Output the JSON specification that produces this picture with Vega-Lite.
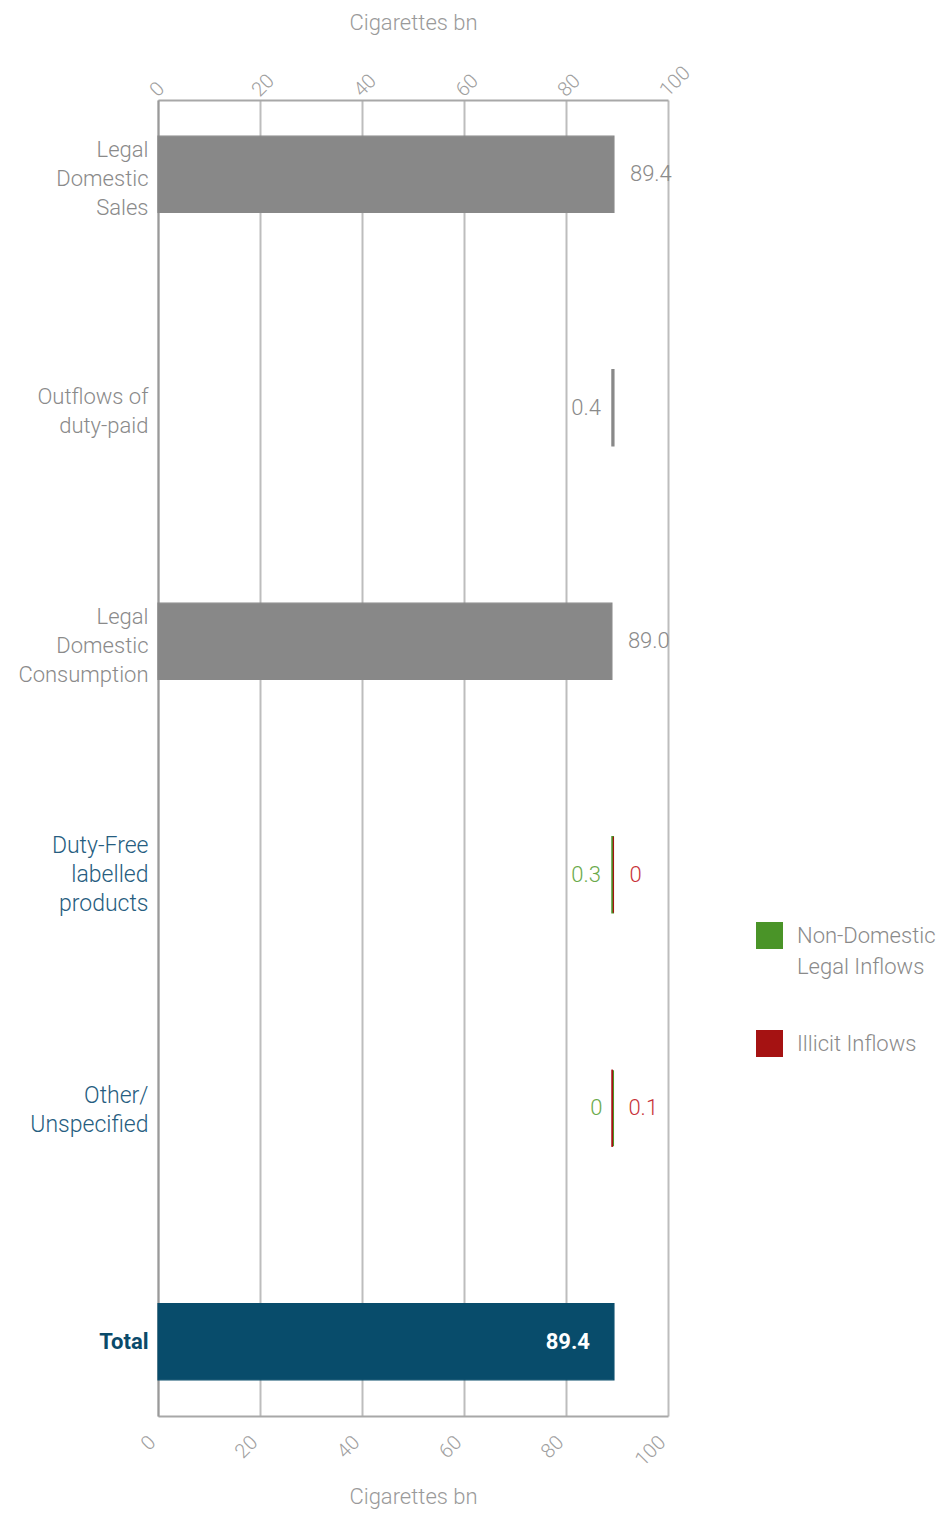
{
  "$schema": "https://vega.github.io/schema/vega-lite/v6.json",
  "width": 510,
  "height": 1316,
  "autosize": "none",
  "padding": {"left": 158, "top": 100, "right": 279, "bottom": 99},
  "background": "white",
  "config": {
    "font": "Roboto",
    "view": {"stroke": null},
    "text": {"font": "Roboto", "fontWeight": 300}
  },
  "data": {
    "values": [
      {"category": "Legal Domestic Sales", "flow": "Domestic", "start": 0, "end": 89.4, "label": "89.4"},
      {"category": "Outflows of duty-paid", "flow": "Outflow", "start": 89.0, "end": 89.4, "label": "0.4"},
      {"category": "Legal Domestic Consumption", "flow": "Domestic", "start": 0, "end": 89.0, "label": "89.0"},
      {"category": "Duty-Free labelled products", "flow": "Non-Domestic Legal Inflows", "start": 89.0, "end": 89.3, "label": "0.3"},
      {"category": "Duty-Free labelled products", "flow": "Illicit Inflows", "start": 89.3, "end": 89.3, "label": "0"},
      {"category": "Other/Unspecified", "flow": "Non-Domestic Legal Inflows", "start": 89.3, "end": 89.3, "label": "0"},
      {"category": "Other/Unspecified", "flow": "Illicit Inflows", "start": 89.0, "end": 89.1, "label": "0.1"},
      {"category": "Total", "flow": "Total", "start": 0, "end": 89.4, "label": "89.4"}
    ]
  },
  "encoding": {
    "y": {
      "field": "category",
      "type": "nominal",
      "sort": ["Legal Domestic Sales", "Outflows of duty-paid", "Legal Domestic Consumption", "Duty-Free labelled products", "Other/Unspecified", "Total"],
      "scale": {"paddingInner": 0.674, "paddingOuter": 0.155},
      "axis": {
        "title": null,
        "ticks": false,
        "domainColor": "#9a9a9a",
        "domainWidth": 2,
        "labelPadding": 10,
        "labelFont": "Roboto",
        "labelFontSize": {"condition": {"test": "datum.value == 'Duty-Free labelled products' || datum.value == 'Other/Unspecified'", "value": 23}, "value": 22},
        "labelLineHeight": 29,
        "labelFontWeight": {"condition": {"test": "datum.value == 'Total'", "value": "bold"}, "value": 300},
        "labelColor": {"condition": [
          {"test": "datum.value == 'Total'", "value": "#0a4a6a"},
          {"test": "datum.value == 'Duty-Free labelled products' || datum.value == 'Other/Unspecified'", "value": "#265d80"}
        ], "value": "#8a8a8a"},
        "labelOffset": {"condition": [
          {"test": "datum.value == 'Legal Domestic Sales' || datum.value == 'Legal Domestic Consumption'", "value": -24},
          {"test": "datum.value == 'Duty-Free labelled products'", "value": -29},
          {"test": "datum.value == 'Outflows of duty-paid'", "value": -11},
          {"test": "datum.value == 'Other/Unspecified'", "value": -12}
        ], "value": 0},
        "labelExpr": "datum.value == 'Legal Domestic Sales' ? ['Legal','Domestic','Sales'] : datum.value == 'Outflows of duty-paid' ? ['Outflows of','duty-paid'] : datum.value == 'Legal Domestic Consumption' ? ['Legal','Domestic','Consumption'] : datum.value == 'Duty-Free labelled products' ? ['Duty-Free','labelled','products'] : datum.value == 'Other/Unspecified' ? ['Other/','Unspecified'] : datum.value"
      }
    }
  },
  "layer": [
    {
      "mark": {"type": "bar", "strokeWidth": 1.2},
      "encoding": {
        "x": {
          "field": "start",
          "type": "quantitative",
          "scale": {"domain": [0, 100], "nice": false},
          "axis": {
            "orient": "bottom",
            "values": [0, 20, 40, 60, 80, 100],
            "title": "Cigarettes bn",
            "titleFont": "Roboto",
            "titleFontWeight": 300,
            "titleFontSize": 22,
            "titleColor": "#9a9a9a",
            "titlePadding": 17,
            "ticks": false,
            "grid": true,
            "gridColor": "#bdbdbd",
            "gridWidth": 2,
            "domainColor": "#a8a8a8",
            "domainWidth": 2,
            "labelAngle": -45,
            "labelAlign": "right",
            "labelBaseline": "middle",
            "labelFont": "Roboto",
            "labelFontWeight": 300,
            "labelFontSize": 20,
            "labelColor": "#a0a0a0",
            "labelPadding": 23,
            "labelOffset": -6,
            "labelFlush": false
          }
        },
        "x2": {"field": "end"},
        "color": {
          "field": "flow",
          "type": "nominal",
          "scale": {
            "domain": ["Non-Domestic Legal Inflows", "Illicit Inflows", "Domestic", "Outflow", "Total"],
            "range": ["#4a9428", "#a51212", "#888888", "#888888", "#084c6b"]
          },
          "legend": {
            "values": ["Non-Domestic Legal Inflows", "Illicit Inflows"],
            "title": null,
            "orient": "none",
            "legendX": 598,
            "legendY": 822,
            "symbolType": "square",
            "symbolSize": 729,
            "symbolStrokeWidth": 0,
            "symbolOpacity": 1,
            "labelFont": "Roboto",
            "labelFontWeight": 300,
            "labelFontSize": 22,
            "labelColor": "#8a8a8a",
            "labelOffset": 14,
            "labelBaseline": "middle",
            "labelLimit": 300,
            "rowPadding": 52,
            "labelExpr": "datum.label == 'Non-Domestic Legal Inflows' ? ['Non-Domestic','Legal Inflows'] : datum.label",
            "encode": {"labels": {"update": {"lineHeight": {"value": 31}}}}
          }
        },
        "stroke": {"field": "flow", "type": "nominal", "legend": null, "scale": {
            "domain": ["Non-Domestic Legal Inflows", "Illicit Inflows", "Domestic", "Outflow", "Total"],
            "range": ["#4a9428", "#a51212", "#888888", "#888888", "#084c6b"]
          }},
        "opacity": {"value": 1}
      }
    },
    {
      "mark": {"type": "rule", "strokeWidth": 0},
      "encoding": {
        "x": {"field": "start", "type": "quantitative", "axis": {
          "orient": "top",
          "values": [0, 20, 40, 60, 80, 100],
          "title": "Cigarettes bn",
          "titleFont": "Roboto",
          "titleFontWeight": 300,
          "titleFontSize": 22,
          "titleColor": "#9a9a9a",
          "titlePadding": 28,
          "ticks": false,
          "grid": false,
          "domainColor": "#a8a8a8",
          "domainWidth": 2,
          "labelAngle": -45,
          "labelAlign": "left",
          "labelBaseline": "middle",
          "labelFont": "Roboto",
          "labelFontWeight": 300,
          "labelFontSize": 20,
          "labelColor": "#a0a0a0",
          "labelPadding": 7,
          "labelOffset": -5,
          "labelFlush": false
        }}
      }
    },
    {
      "transform": [{"filter": "datum.flow == 'Domestic' || datum.flow == 'Illicit Inflows'"}],
      "mark": {"type": "text", "align": "left", "baseline": "middle", "dx": 16, "fontSize": 22, "fontWeight": 300},
      "encoding": {
        "x": {"field": "end", "type": "quantitative", "axis": null},
        "text": {"field": "label"},
        "color": {"condition": {"test": "datum.flow == 'Illicit Inflows'", "value": "#c8323a"}, "value": "#8a8a8a"}
      }
    },
    {
      "transform": [{"filter": "datum.flow == 'Outflow' || datum.flow == 'Non-Domestic Legal Inflows'"}],
      "mark": {"type": "text", "align": "right", "baseline": "middle", "dx": -11, "fontSize": 22, "fontWeight": 300},
      "encoding": {
        "x": {"field": "start", "type": "quantitative", "axis": null},
        "text": {"field": "label"},
        "color": {"condition": {"test": "datum.flow == 'Non-Domestic Legal Inflows'", "value": "#6aaa4a"}, "value": "#8a8a8a"}
      }
    },
    {
      "transform": [{"filter": "datum.flow == 'Total'"}],
      "mark": {"type": "text", "align": "right", "baseline": "middle", "dx": -24, "fontSize": 22, "fontWeight": "bold", "color": "white"},
      "encoding": {
        "x": {"field": "end", "type": "quantitative", "axis": null},
        "text": {"field": "label"}
      }
    }
  ],
  "resolve": {"axis": {"x": "independent"}}
}
